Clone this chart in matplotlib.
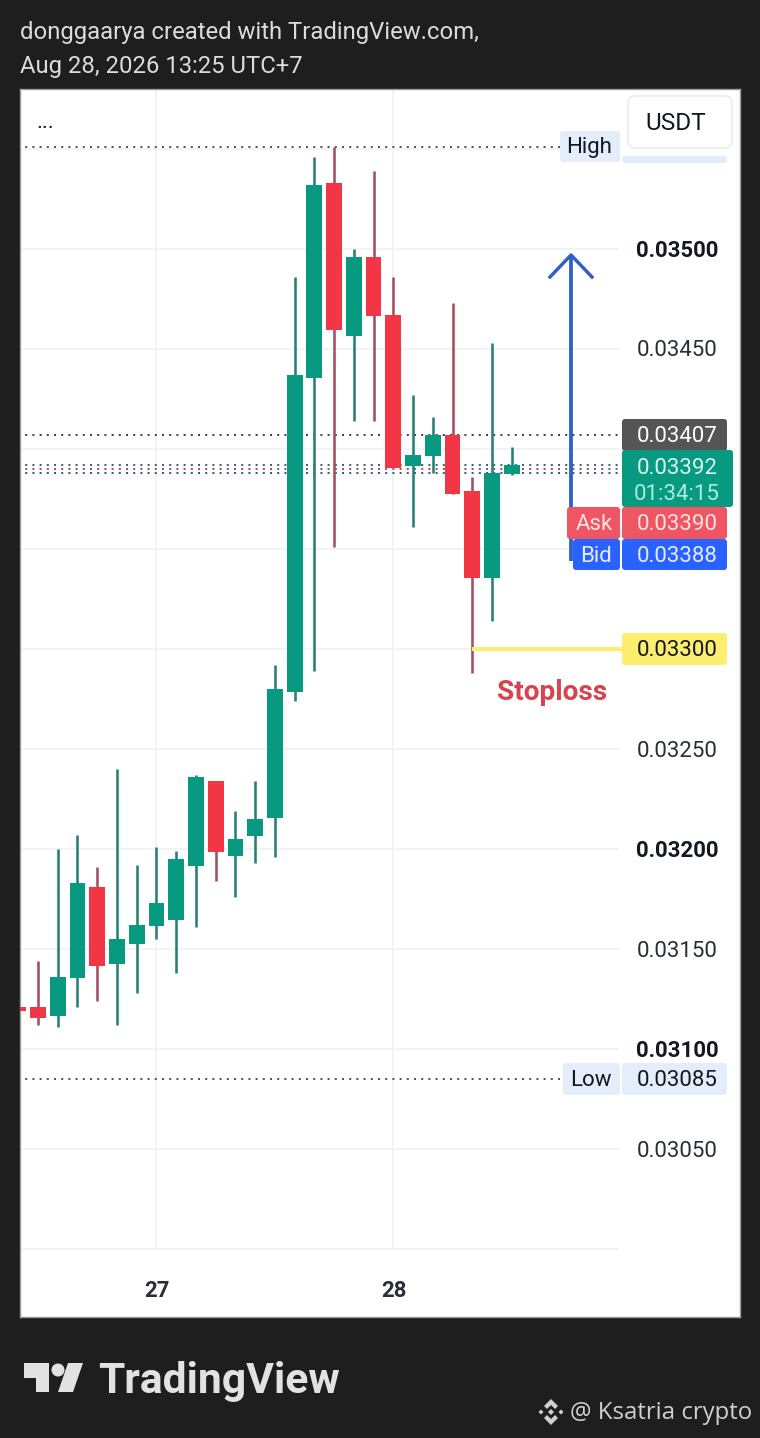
import matplotlib
matplotlib.use('Agg')
import matplotlib.pyplot as plt
from matplotlib.patches import FancyBboxPatch, Polygon, Circle
from matplotlib.transforms import blended_transform_factory

plt.rcParams['font.family'] = ['Roboto', 'DejaVu Sans']

# candles, oldest first (first one is cut by the left edge)
candle_idx = list(range(26))
opens = [0.03121, 0.03121, 0.031165, 0.031355, 0.03181, 0.031425, 0.031525, 0.031615, 0.031645, 0.031915,
         0.03234, 0.031965, 0.032065, 0.032155, 0.032785, 0.034355, 0.03533, 0.034565, 0.03496, 0.03467,
         0.033915, 0.033965, 0.03407, 0.03379, 0.033355, 0.033875]
closes = [0.03119, 0.031155, 0.03136, 0.03183, 0.031415, 0.03155, 0.03162, 0.03173, 0.03195, 0.03236,
          0.031985, 0.03205, 0.03215, 0.0328, 0.03437, 0.03532, 0.034595, 0.03496, 0.034665, 0.033905,
          0.03397, 0.03407, 0.033775, 0.033355, 0.03388, 0.03392]
highs = [0.03121, 0.03144, 0.032, 0.03207, 0.03191, 0.0324, 0.03192, 0.03201, 0.03199, 0.03237,
         0.03234, 0.03219, 0.03234, 0.03292, 0.03486, 0.03546, 0.03551, 0.035, 0.03539, 0.03486,
         0.03427, 0.03416, 0.03473, 0.03386, 0.03453, 0.03401]
lows = [0.03119, 0.03112, 0.03111, 0.03121, 0.03124, 0.03112, 0.03128, 0.03155, 0.03138, 0.03161,
        0.03184, 0.03176, 0.03193, 0.03196, 0.03274, 0.03289, 0.03351, 0.03414, 0.03414, 0.033905,
        0.03361, 0.03388, 0.033775, 0.03288, 0.03314, 0.03387]

price_ticks = [0.0345, 0.0325, 0.0315, 0.0305]
bold_ticks = [0.035, 0.032, 0.031]
grid_prices = [0.0355, 0.035, 0.0345, 0.034, 0.0335, 0.033, 0.0325, 0.032, 0.0315, 0.031, 0.0305, 0.03]
date_idx = [7, 19]
date_labels = ['27', '28']

high_price = 0.03551
low_price = 0.03085
last_price = 0.03392
prev_close = 0.03407
ask = 0.0339
bid = 0.03388
stoploss = 0.033
target = 0.03497
arrow_base = 0.03344

GREEN = '#089981'
RED = '#f23645'
WICK_GREEN = '#2a7f78'
WICK_RED = '#a5505f'
INK = '#131722'
BG = '#1e1e1e'
PX = 0.72  # one pixel in points at dpi 100

fig = plt.figure(figsize=(7.6, 14.38), dpi=100, facecolor=BG)

# overlay in picture pixels for the frame, tags and logo
ov = fig.add_axes([0, 0, 1, 1], zorder=3)
ov.set_xlim(0, 760)
ov.set_ylim(1438, 0)
ov.axis('off')
ov.patch.set_alpha(0)


def px_to_idx(x):
    return (x - 38) / 19.74 + 1


def y_px(price):
    return 249 + (0.035 - price) * 200000


# main chart sits exactly on the white panel
ax = fig.add_axes([20 / 760, 1 - 1317 / 1438, 720 / 760, 1228 / 1438], zorder=1)
ax.set_xlim(px_to_idx(20), px_to_idx(740))
ax.set_ylim(0.02966, 0.0358)
ax.set_xticks([])
ax.set_yticks([])
for s in ax.spines.values():
    s.set_color('#9a9a9a')
    s.set_linewidth(1)

grid_right = px_to_idx(619)
ax.hlines(grid_prices, 0, grid_right, color='#eff0f2', lw=1.5 * PX, zorder=1)
ax.vlines(date_idx, 0.03, 0.0358, color='#eff0f2', lw=1.5 * PX, zorder=1)

# reference lines
for price, col, end in [(high_price, '#555555', 560), (prev_close, '#444444', 620), (last_price, '#2a6f6a', 620),
                        (ask, '#b5505f', 620), (bid, '#3a55a5', 620), (low_price, '#555555', 562)]:
    ax.hlines(price, 0, px_to_idx(end), color=col, lw=2 * PX, linestyles=(0, (1, 2.6)), zorder=2)

# candles
for i, o, h, l, c in zip(candle_idx, opens, highs, lows, closes):
    up = c >= o
    ax.vlines(i, l, h, color=WICK_GREEN if up else WICK_RED, lw=2.6 * PX, zorder=3)
    ax.bar(i, abs(c - o), bottom=min(o, c), width=0.8, color=GREEN if up else RED, lw=0, zorder=4)

# arrow and stoploss line
tr = blended_transform_factory(ov.transData, ax.transData)
ax.plot([571, 571], [arrow_base, target], transform=tr, color='#2f5fc9', lw=3.8 * PX, zorder=5,
        solid_capstyle='butt')
ax.plot([550, 571, 592], [target - 0.00011, target, target - 0.00011], transform=tr, color='#2f5fc9',
        lw=3.4 * PX, zorder=5)
ax.plot([472, 622], [stoploss, stoploss], transform=tr, color='#fdee70', lw=4 * PX, zorder=5,
        solid_capstyle='butt')


def box(x0, x1, y0, y1, col, r=3, z=4):
    ov.add_patch(FancyBboxPatch((x0 + r, y0 + r), x1 - x0 - 2 * r, y1 - y0 - 2 * r,
                                boxstyle='round,pad=%d,rounding_size=%d' % (r, r), fc=col, lw=0, zorder=z))


def label(x, y, s, col=INK, size=16, weight='normal', ha='center', z=6):
    ov.text(x, y + 2, s, color=col, fontsize=size, fontweight=weight, ha=ha, va='center', zorder=z)


# header
label(20, 31, 'donggaarya created with TradingView.com,', '#dcdcdc', 17.2, ha='left')
label(20, 65, 'Aug 28, 2026 13:25 UTC+7', '#dcdcdc', 17.2, ha='left')

label(45, 121, '...', INK, 16)

# price axis labels
for p in price_ticks:
    label(677, y_px(p), '%.5f' % p, '#2a2e39')
for p in bold_ticks:
    label(677, y_px(p), '%.5f' % p, INK, weight='bold')

# date labels
for i, s in zip(date_idx, date_labels):
    label(38 + 19.74 * (i - 1) + 0.5, 1289, s, '#2a2e39', 16, weight='bold')

# tags
box(622, 727, 156, 163, '#e3eefa', z=3)
box(560, 620, 131, 162, '#e3eefa')
label(589, 146, 'High')
ov.add_patch(FancyBboxPatch((635, 103), 90, 38, boxstyle='round,pad=7,rounding_size=7', fc='white',
                            ec='#eeeeef', lw=1.3, zorder=5))
label(676, 122, 'USDT', size=17.6)

box(563, 620, 1063, 1095, '#e3eefa')
label(591, 1079, 'Low')
box(622, 727, 1063, 1095, '#e3eefa')
label(677, 1079, '%.5f' % low_price)

box(622, 727, 419, 451, '#555555')
label(677, 435, '%.5f' % prev_close, 'white')
box(622, 733, 450, 507, GREEN, z=5)
label(677, 466, '%.5f' % last_price, '#d8f5ee', z=7)
label(677, 492, '01:34:15', '#a9eedd', z=7)
box(567, 620, 507, 539, '#f05563', z=5)
label(594, 523, 'Ask', '#fbe3e5')
box(622, 727, 507, 539, '#f05563', z=5)
label(677, 523, '%.5f' % ask, '#fbe3e5')
box(573, 620, 539, 570, '#2962ff', z=4)
label(596, 554, 'Bid', '#e4ecff')
box(622, 727, 539, 570, '#2962ff', z=4)
label(677, 554, '%.5f' % bid, '#e4ecff')
box(622, 727, 633, 665, '#fdee70')
label(677, 649, '%.5f' % stoploss)
label(552, 691, 'Stoploss', '#d9434f', 20.2, weight='bold')

# TradingView logo
LOGO = '#e2e2e2'
ov.add_patch(Polygon([(24, 1363), (48.5, 1363), (48.5, 1392), (35.5, 1392), (35.5, 1378), (24, 1378)], fc=LOGO, lw=0))
ov.add_patch(Circle((58, 1370), 6.5, fc=LOGO, lw=0))
ov.add_patch(Polygon([(68, 1363), (83, 1363), (73, 1392), (58, 1392)], fc=LOGO, lw=0))
label(98, 1379, 'TradingView', LOGO, 30.7, weight='bold', ha='left')

# watermark
MARK = '#d0d0d0'
cx, cy = 551, 1412
ov.add_patch(Polygon([(cx, cy - 13), (cx + 7, cy - 6), (cx + 4, cy - 3), (cx, cy - 7), (cx - 4, cy - 3), (cx - 7, cy - 6)], fc=MARK, lw=0))
ov.add_patch(Polygon([(cx, cy + 13), (cx + 7, cy + 6), (cx + 4, cy + 3), (cx, cy + 7), (cx - 4, cy + 3), (cx - 7, cy + 6)], fc=MARK, lw=0))
for dx, dy, r in [(0, 0, 3), (-10, 0, 2.5), (10, 0, 2.5)]:
    ov.add_patch(Polygon([(cx + dx - r, cy + dy), (cx + dx, cy + dy - r), (cx + dx + r, cy + dy), (cx + dx, cy + dy + r)], fc=MARK, lw=0))
ov.text(570, 1413, '@ Ksatria crypto', color=MARK, fontsize=17.2, family='Open Sans', ha='left', va='center')

fig.savefig('out.png', dpi=100, facecolor=BG)
